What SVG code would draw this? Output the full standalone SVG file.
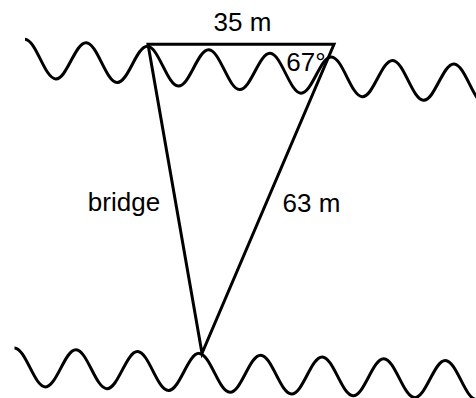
<svg xmlns="http://www.w3.org/2000/svg" width="476" height="398" viewBox="0 0 476 398">
<style>
.wave{fill:none;stroke:#000;stroke-width:3;stroke-linecap:butt}
.edge{fill:none;stroke:#000;stroke-width:3;stroke-linejoin:miter;stroke-linecap:round}
.lbl{font-family:"Liberation Sans",Arial,sans-serif;font-size:26px;fill:#000;text-anchor:middle}
</style>
<rect width="476" height="398" fill="#fff"/>
<g id="bank-top">
<path class="wave" transform="matrix(1,0.0578,0,1,0,56.75)" d="M25,-19 c11.14,0 19.51,38 30.65,38 c11.14,0 19.51,-38 30.65,-38 c11.14,0 19.51,38 30.65,38 c11.14,0 19.51,-38 30.65,-38 c11.14,0 19.51,38 30.65,38 c11.14,0 19.51,-38 30.65,-38 c11.14,0 19.51,38 30.65,38 c11.14,0 19.51,-38 30.65,-38 c11.14,0 19.51,38 30.65,38 c11.14,0 19.51,-38 30.65,-38 c11.14,0 19.51,38 30.65,38 c11.14,0 19.51,-38 30.65,-38 c11.14,0 19.51,38 30.65,38 c11.14,0 19.51,-38 30.65,-38 c11.14,0 19.51,38 30.65,38"/>
</g>
<g id="bank-bottom">
<path class="wave" transform="matrix(1,0.029,0,1,0,366.6)" d="M14.5,-19 c11.19,0 19.59,38 30.78,38 c11.19,0 19.59,-38 30.78,-38 c11.19,0 19.59,38 30.78,38 c11.19,0 19.59,-38 30.78,-38 c11.19,0 19.59,38 30.78,38 c11.19,0 19.59,-38 30.78,-38 c11.19,0 19.59,38 30.78,38 c11.19,0 19.59,-38 30.78,-38 c11.19,0 19.59,38 30.78,38 c11.19,0 19.59,-38 30.78,-38 c11.19,0 19.59,38 30.78,38 c11.19,0 19.59,-38 30.78,-38 c11.19,0 19.59,38 30.78,38 c11.19,0 19.59,-38 30.78,-38 c11.19,0 19.59,38 30.78,38"/>
</g>
<g id="connectors">
<polygon id="triangle" class="edge" points="148,44.3 334,44.3 202,353.3"/>
</g>
<g id="labels">
<text id="lbl-top" class="lbl" x="242.5" y="31">35 m</text>
<text id="lbl-angle" class="lbl" x="306" y="71">67°</text>
<text id="lbl-bridge" class="lbl" x="124" y="211">bridge</text>
<text id="lbl-side" class="lbl" x="311.5" y="212">63 m</text>
</g>
</svg>
